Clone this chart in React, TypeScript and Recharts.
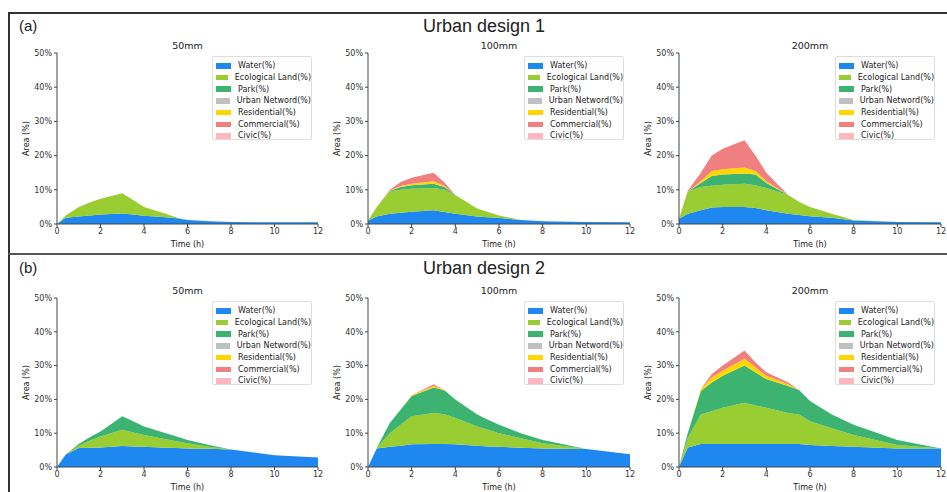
import { AreaChart, Area, XAxis, YAxis } from "recharts";

// time steps (h) shared by every panel
const T = [0, 0.4, 1, 1.5, 2, 3, 3.5, 4, 5, 5.5, 6, 7, 8, 10, 12];
const ZERO = [0, 0, 0, 0, 0, 0, 0, 0, 0, 0, 0, 0, 0, 0, 0];

// Urban design 1
const D1_50_WATER = [0, 1.8, 2.2, 2.5, 2.8, 3.1, 2.8, 2.4, 2.0, 1.7, 1.2, 0.8, 0.6, 0.5, 0.5];
const D1_50_ECO = [0, 0.7, 2.8, 3.8, 4.6, 5.9, 4.2, 2.6, 1.0, 0.2, 0, 0, 0, 0, 0];

const D1_100_WATER = [1, 2.2, 3, 3.3, 3.6, 4, 3.5, 3, 2.2, 2, 1.8, 1.2, 0.8, 0.6, 0.5];
const D1_100_ECO = [0, 2.8, 6.6, 6.7, 6.7, 6.5, 6.5, 5.5, 2.3, 1.5, 0.7, 0, 0, 0, 0];
const D1_100_PARK = [0, 0, 0.1, 0.8, 1.0, 1.3, 0.8, 0, 0, 0, 0, 0, 0, 0, 0];
const D1_100_RES = [0, 0, 0.1, 0.3, 0.5, 0.7, 0.3, 0, 0, 0, 0, 0, 0, 0, 0];
const D1_100_COM = [0, 0, 0.2, 1.2, 1.7, 2.5, 1.0, 0, 0, 0, 0, 0, 0, 0, 0];

const D1_200_WATER = [1.5, 3, 4, 4.8, 5, 5, 4.7, 4, 3, 2.6, 2.3, 1.8, 1, 0.6, 0.5];
const D1_200_ECO = [0, 6.5, 6.8, 6.4, 6.5, 6.8, 6.6, 6.5, 5.5, 3.9, 2.7, 1.2, 0.2, 0, 0];
const D1_200_PARK = [0, 0, 1.2, 2.8, 3.0, 3.0, 3.2, 1.5, 0, 0, 0, 0, 0, 0, 0];
const D1_200_RES = [0, 0, 0.5, 1.5, 1.5, 1.7, 1.0, 0.5, 0, 0, 0, 0, 0, 0, 0];
const D1_200_COM = [0, 0.2, 2.5, 4.5, 6, 8, 4.5, 2.5, 0, 0, 0, 0, 0, 0, 0];

// Urban design 2
const D2_50_WATER = [0, 3.7, 5.6, 5.7, 5.8, 6.2, 6.1, 6, 5.7, 5.6, 5.5, 5.4, 5.2, 3.5, 2.8];
const D2_50_ECO = [0, 0, 0.7, 2.1, 3.2, 4.8, 4.1, 3.5, 2.5, 2.0, 1.5, 0.6, 0, 0, 0];
const D2_50_PARK = [0, 0, 0.5, 1.0, 1.5, 4.0, 3.3, 2.5, 1.8, 1.4, 1.0, 0.5, 0, 0, 0];

const D2_100_WATER = [0, 5.5, 6, 6.3, 6.7, 6.8, 6.8, 6.7, 6.3, 6.1, 6, 5.7, 5.5, 5.3, 3.8];
const D2_100_ECO = [0, 0.1, 4, 6.2, 8.3, 9.2, 8.8, 7.8, 5.7, 4.9, 4, 2.8, 1.5, 0, 0];
const D2_100_PARK = [0, 0, 3, 4.5, 6, 7.5, 7.1, 5.5, 3.5, 3, 2.5, 1.5, 1, 0, 0];
const D2_100_RES = [0, 0, 0, 0, 0.2, 0.5, 0.1, 0, 0, 0, 0, 0, 0, 0, 0];
const D2_100_COM = [0, 0, 0, 0, 0, 0.5, 0, 0, 0, 0, 0, 0, 0, 0, 0];

const D2_200_WATER = [0, 5.8, 6.8, 6.8, 6.8, 6.8, 6.8, 6.8, 6.8, 6.8, 6.5, 6.2, 6, 5.5, 5.5];
const D2_200_ECO = [0, 2.7, 8.7, 9.7, 10.7, 12.2, 11.4, 10.7, 9.2, 8.7, 7, 5.3, 3.5, 1, 0];
const D2_200_PARK = [0, 1.5, 7, 8.5, 9.5, 11, 9.8, 8.5, 8, 7.3, 6, 4, 3, 1.5, 0];
const D2_200_RES = [0, 0, 0.5, 1.5, 1.5, 2, 1.5, 1, 0.5, 0, 0, 0, 0, 0, 0];
const D2_200_COM = [0, 0, 0, 1, 1.5, 2.5, 1.5, 1, 0.5, 0, 0, 0, 0, 0, 0];

const SERIES = [
  { key: "water", name: "Water(%)", color: "#1e88f0" },
  { key: "eco", name: "Ecological Land(%)", color: "#9acd32" },
  { key: "park", name: "Park(%)", color: "#3cb371" },
  { key: "urban", name: "Urban Netword(%)", color: "#c0c0c0" },
  { key: "res", name: "Residential(%)", color: "#ffd700" },
  { key: "com", name: "Commercial(%)", color: "#f08080" },
  { key: "civic", name: "Civic(%)", color: "#ffb6c1" },
];

const X_TICKS = [0, 2, 4, 6, 8, 10, 12];
const Y_TICKS = [0, 10, 20, 30, 40, 50];

function rows(water: number[], eco: number[], park: number[], res: number[], com: number[]) {
  return T.map((t, i) => ({
    t,
    water: water[i],
    eco: eco[i],
    park: park[i],
    urban: ZERO[i],
    res: res[i],
    com: com[i],
    civic: ZERO[i],
  }));
}

const PANELS = [
  { title: "50mm", row: 0, col: 0, data: rows(D1_50_WATER, D1_50_ECO, ZERO, ZERO, ZERO) },
  { title: "100mm", row: 0, col: 1, data: rows(D1_100_WATER, D1_100_ECO, D1_100_PARK, D1_100_RES, D1_100_COM) },
  { title: "200mm", row: 0, col: 2, data: rows(D1_200_WATER, D1_200_ECO, D1_200_PARK, D1_200_RES, D1_200_COM) },
  { title: "50mm", row: 1, col: 0, data: rows(D2_50_WATER, D2_50_ECO, D2_50_PARK, ZERO, ZERO) },
  { title: "100mm", row: 1, col: 1, data: rows(D2_100_WATER, D2_100_ECO, D2_100_PARK, D2_100_RES, D2_100_COM) },
  { title: "200mm", row: 1, col: 2, data: rows(D2_200_WATER, D2_200_ECO, D2_200_PARK, D2_200_RES, D2_200_COM) },
];

const PLOT_LEFT = [57, 368, 679];
const PLOT_RIGHT = [318, 630, 941];
const PLOT_TOP = [53, 298];
const PLOT_BOTTOM = [224, 467];
const Y_AXIS_W = 45;
const M_TOP = 8;
const M_RIGHT = 6;
const X_AXIS_H = 26;

const FONT = "'DejaVu Sans', sans-serif";
const tick = { fill: "#333", fontSize: 8, fontFamily: FONT };
const axisLine = { stroke: "#444" };

function Panel({ title, row, col, data }: (typeof PANELS)[number]) {
  const pl = PLOT_LEFT[col];
  const pr = PLOT_RIGHT[col];
  const pt = PLOT_TOP[row];
  const pb = PLOT_BOTTOM[row];
  const w = pr - pl + Y_AXIS_W + M_RIGHT;
  const h = pb - pt + M_TOP + X_AXIS_H;
  return (
    <>
      <div
        style={{
          position: "absolute",
          left: pl,
          width: pr - pl,
          top: pt - 13,
          textAlign: "center",
          fontFamily: FONT,
          fontSize: 9.5,
          color: "#222",
        }}
      >
        {title}
      </div>
      <div style={{ position: "absolute", left: pl - Y_AXIS_W, top: pt - M_TOP }}>
        <AreaChart width={w} height={h} data={data} margin={{ top: M_TOP, right: M_RIGHT, bottom: 0, left: 0 }}>
          <XAxis
            dataKey="t"
            type="number"
            domain={[0, 12]}
            ticks={X_TICKS}
            tick={tick}
            tickSize={3}
            tickMargin={1}
            height={X_AXIS_H}
            axisLine={axisLine}
            tickLine={axisLine}
            label={{ value: "Time (h)", position: "insideBottom", offset: 3, style: { fontSize: 8, fontFamily: FONT, fill: "#222" } }}
          />
          <YAxis
            type="number"
            domain={[0, 50]}
            ticks={Y_TICKS}
            tickFormatter={(v) => `${v}%`}
            tick={tick}
            tickSize={3}
            tickMargin={2}
            width={Y_AXIS_W}
            axisLine={axisLine}
            tickLine={axisLine}
            label={{
              value: "Area (%)",
              angle: -90,
              position: "insideLeft",
              offset: 14,
              style: { textAnchor: "middle", fontSize: 8, fontFamily: FONT, fill: "#222" },
            }}
          />
          {SERIES.map((s) => (
            <Area
              key={s.key}
              dataKey={s.key}
              name={s.name}
              stackId="1"
              type="linear"
              fill={s.color}
              fillOpacity={1}
              stroke="none"
              isAnimationActive={false}
            />
          ))}
        </AreaChart>
      </div>
      <div
        style={{
          position: "absolute",
          left: pr - 106,
          top: pt + 3,
          width: 100,
          height: 84,
          border: "1px solid #ddd",
          borderRadius: 2,
          background: "rgba(255,255,255,0.85)",
          boxSizing: "border-box",
          paddingTop: 3,
        }}
      >
        {SERIES.map((s) => (
          <div key={s.key} style={{ display: "flex", alignItems: "center", height: 11.7 }}>
            <div style={{ width: 15, height: 5.5, background: s.color, marginLeft: 3, marginRight: 7 }} />
            <span style={{ fontFamily: FONT, fontSize: 8, color: "#222", whiteSpace: "nowrap" }}>{s.name}</span>
          </div>
        ))}
      </div>
    </>
  );
}

export default function App() {
  const heading = { position: "absolute" as const, fontFamily: "'Liberation Sans', Arial, sans-serif", color: "#222" };
  return (
    <div style={{ position: "absolute", left: 0, top: 0, width: 947, height: 492, overflow: "hidden", background: "#fff" }}>
      {/* frame */}
      <div style={{ position: "absolute", left: 8, top: 12, width: 2, height: 480, background: "#333" }} />
      <div style={{ position: "absolute", left: 8, top: 12, width: 939, height: 2, background: "#333" }} />
      <div style={{ position: "absolute", left: 8, top: 253, width: 939, height: 2, background: "#555" }} />

      <div style={{ ...heading, left: 19, top: 17, fontSize: 15 }}>(a)</div>
      <div style={{ ...heading, left: 284, width: 400, top: 16, fontSize: 18, textAlign: "center" }}>Urban design 1</div>
      <div style={{ ...heading, left: 19, top: 259, fontSize: 15 }}>(b)</div>
      <div style={{ ...heading, left: 284, width: 400, top: 258, fontSize: 18, textAlign: "center" }}>Urban design 2</div>

      {PANELS.map((p, i) => (
        <Panel key={i} {...p} />
      ))}
    </div>
  );
}
